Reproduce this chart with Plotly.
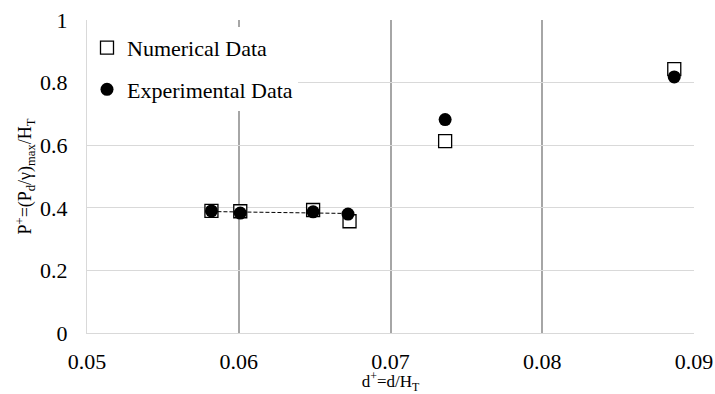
import numpy as np
import plotly.graph_objects as go

# Data
d_num = [0.0582, 0.0601, 0.0649, 0.0673, 0.0736, 0.0887]
p_num = [0.390, 0.389, 0.393, 0.357, 0.613, 0.843]
d_exp = [0.0582, 0.0601, 0.0649, 0.0672, 0.0736, 0.0887]
p_exp = [0.390, 0.383, 0.387, 0.380, 0.682, 0.818]

x_ticks = [0.05, 0.06, 0.07, 0.08, 0.09]
x_ticktext = ["0.05", "0.06", "0.07", "0.08", "0.09"]
y_ticks = [0, 0.2, 0.4, 0.6, 0.8, 1.0]
y_ticktext = ["0", "0.2", "0.4", "0.6", "0.8", "1"]

# linear trend over the first four experimental points
n_fit = 4
coef = np.polyfit(d_exp[:n_fit], p_exp[:n_fit], 1)
trend_x = [d_exp[0], d_exp[n_fit - 1]]
trend_y = list(np.polyval(coef, trend_x))

FONT = "Liberation Serif, Times New Roman, serif"

fig = go.Figure()
fig.add_trace(go.Scatter(
    x=d_num, y=p_num, mode="markers", name="Numerical Data",
    legendgroup="num",
    marker=dict(symbol="square", size=13, color="white",
                line=dict(color="black", width=1.3)),
))
fig.add_trace(go.Scatter(
    x=d_exp, y=p_exp, mode="markers", name="Experimental Data",
    legendgroup="exp",
    marker=dict(symbol="circle", size=13, color="black",
                line=dict(color="black", width=0)),
))
fig.add_trace(go.Scatter(
    x=trend_x, y=trend_y, mode="lines", showlegend=False,
    line=dict(color="black", width=1, dash="4px,2px"),
    hoverinfo="skip",
))

fig.update_layout(
    width=715, height=394,
    margin=dict(l=87, r=21, t=20, b=61),
    paper_bgcolor="white", plot_bgcolor="white",
    font=dict(family=FONT, size=22, color="black"),
    showlegend=True,
    legend=dict(
        x=0.0, y=0.978, xanchor="left", yanchor="top",
        bgcolor="white", borderwidth=0,
        traceorder="grouped", tracegroupgap=10,
        font=dict(family=FONT, size=22, color="black"),
        itemwidth=30,
    ),
    xaxis=dict(
        range=[0.05, 0.09], automargin=False,
        tickmode="array", tickvals=x_ticks, ticktext=x_ticktext,
        showgrid=False, zeroline=False,
        showline=True, linecolor="#d9d9d9", linewidth=1,
        ticks="", ticklabelstandoff=9,
        minor=dict(tickmode="array", tickvals=[0.06, 0.07, 0.08, 0.09],
                   showgrid=True, gridcolor="#a6a6a6", gridwidth=2, ticks=""),
        title=dict(text="d<sup>+</sup>=d/H<sub>T</sub>",
                   font=dict(family=FONT, size=17, color="black"),
                   standoff=10),
    ),
    yaxis=dict(
        range=[0, 1.0], automargin=False,
        tickmode="array", tickvals=y_ticks, ticktext=y_ticktext,
        showgrid=True, gridcolor="#d9d9d9", gridwidth=1,
        zeroline=False,
        showline=True, linecolor="#d9d9d9", linewidth=1,
        ticks="", ticklabelstandoff=14,
        title=dict(text="P<sup>+</sup>=(P<sub>d</sub>/γ)<sub>max</sub>/H<sub>T</sub>",
                   font=dict(family=FONT, size=18, color="black"),
                   standoff=3),
    ),
)

fig.write_html("out.html", config={"displayModeBar": False},
               post_script="document.body.style.margin='0';")
